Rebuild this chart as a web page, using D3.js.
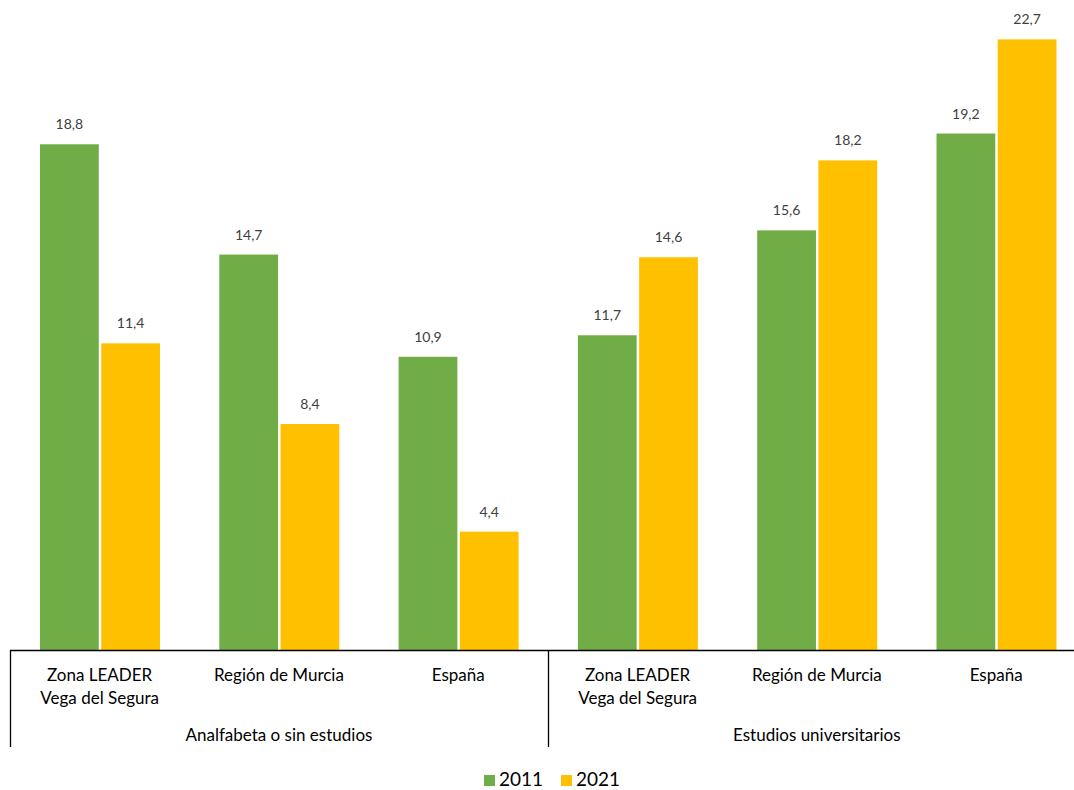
<!DOCTYPE html>
<html><head><meta charset="utf-8">
<script src="https://cdn.jsdelivr.net/npm/d3@7/dist/d3.min.js"></script>
<style>body{margin:0;background:#fff;} svg{display:block;font-family:Lato, "Open Sans", sans-serif;}</style>
</head><body>
<svg id="c" width="1074" height="790"></svg>
<script>
const groups = ["Analfabeta o sin estudios", "Estudios universitarios"];
const places = [["Zona LEADER", "Vega del Segura"], ["Región de Murcia"], ["España"]];
const seriesNames = ["2011", "2021"];
const values2011 = [18.8, 14.7, 10.9, 11.7, 15.6, 19.2];
const values2021 = [11.4, 8.4, 4.4, 14.6, 18.2, 22.7];
const colors = ["#70AD47", "#FFC000"];

const cats = [];
groups.forEach((g, gi) => places.forEach((p, pi) => cats.push({id: gi + "-" + pi, lines: p, group: gi, idx: gi * 3 + pi})));

const svg = d3.select("#c");
const left = 10, bandW = 179.3, baseY = 650;
const x = d3.scaleBand().domain(cats.map(c => c.id)).range([left, left + bandW * 6]).paddingInner(0).paddingOuter(0);
const y = d3.scaleLinear().domain([0, 22.7]).range([baseY, baseY - 22.7 * 26.9]);
const inner = d3.scaleBand().domain(seriesNames).range([30, 150]).paddingInner(0.04);

const data = [values2011, values2021];
const g = svg.append("g");
cats.forEach((c, i) => {
  seriesNames.forEach((s, si) => {
    const v = data[si][i];
    const bx = x(c.id) + inner(s);
    g.append("rect").attr("x", bx).attr("y", y(v)).attr("width", inner.bandwidth()).attr("height", y(0) - y(v)).attr("fill", colors[si]);
    g.append("text").attr("x", bx + inner.bandwidth() / 2).attr("y", y(v) - 15).attr("text-anchor", "middle")
      .attr("font-size", 14).attr("fill", "#404040").text(String(v).replace(".", ","));
  });
  c.lines.forEach((l, li) => {
    svg.append("text").attr("x", x(c.id) + bandW / 2).attr("y", 681 + li * 23).attr("text-anchor", "middle")
      .attr("font-size", 17).attr("fill", "#000").text(l);
  });
});
// axis
svg.append("line").attr("x1", left).attr("x2", left + bandW * 6).attr("y1", baseY + 0.5).attr("y2", baseY + 0.5).attr("stroke", "#000").attr("stroke-width", 1.3);
[0, 3, 6].forEach(k => {
  const xx = Math.round(left + bandW * k) + 0.5;
  svg.append("line").attr("x1", xx).attr("x2", xx).attr("y1", baseY).attr("y2", 747).attr("stroke", "#000").attr("stroke-width", 1.3);
});
groups.forEach((gname, gi) => {
  svg.append("text").attr("x", left + bandW * (gi * 3 + 1.5)).attr("y", 741).attr("text-anchor", "middle")
    .attr("font-size", 17).attr("fill", "#000").text(gname);
});
// legend
const leg = [{x: 484, tx: 499}, {x: 561, tx: 576}];
seriesNames.forEach((s, si) => {
  svg.append("rect").attr("x", leg[si].x).attr("y", 775).attr("width", 11).attr("height", 11).attr("fill", colors[si]);
  svg.append("text").attr("x", leg[si].tx).attr("y", 786).attr("font-size", 19).attr("fill", "#000").text(s);
});
</script>
</body></html>
